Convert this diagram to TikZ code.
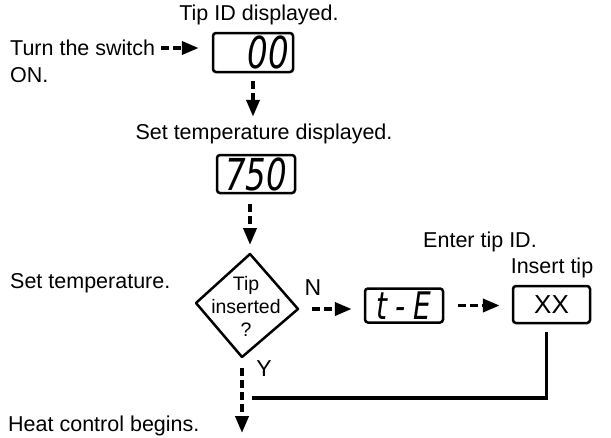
\documentclass[tikz,border=0pt]{standalone}
\usepackage{fontspec}
\setmainfont{Liberation Sans}
\newfontfamily\segfont{DejaVu Sans Condensed}
\usetikzlibrary{arrows.meta}
\newcommand{\segtxt}[1]{\scalebox{0.82}[1]{#1}}
\begin{document}
\begin{tikzpicture}[x=1pt,y=-1pt,
  lbl/.style={font=\fontsize{21.5}{24}\selectfont, inner sep=0pt},
  segbox/.style={draw, line width=2.5pt, rounded corners=3pt, inner sep=0pt,
    font=\fontsize{44}{46}\segfont\itshape},
  xxbox/.style={draw, line width=2.5pt, rounded corners=3pt, inner sep=0pt,
    font=\fontsize{26}{28}\selectfont},
  flow/.style={line width=3.8pt, dash pattern=on 8pt off 4pt,
    -{Triangle[length=17pt,width=13pt]}},
  solidline/.style={line width=3.8pt},
  diamondline/.style={line width=2.5pt, line join=round}]
\useasboundingbox (0,0) rectangle (611,437);

% texts
\node[lbl] (tipid) at (259,15) {Tip ID displayed.};
\node[lbl, anchor=west] (turn) at (10,48) {Turn the switch};
\node[lbl, anchor=west] (on) at (10,75) {ON.};
\node[lbl] (setdisp) at (264,134) {Set temperature displayed.};
\node[lbl] (enter) at (480,242) {Enter tip ID.};
\node[lbl] (insert) at (552,268) {Insert tip};
\node[lbl, anchor=west] (settemp) at (10,283) {Set temperature.};
\node[lbl, anchor=west] (heat) at (8,426) {Heat control begins.};
\node[font=\fontsize{23}{24}\selectfont, inner sep=0pt] (nlbl) at (313,288) {N};
\node[font=\fontsize{23}{24}\selectfont, inner sep=0pt] (ylbl) at (264,369) {Y};

% boxes
\node[segbox, minimum width=80pt, minimum height=39pt, text width=72pt, align=right] (b00) at (253,52.5) {\segtxt{00}};
\node[segbox, minimum width=78pt, minimum height=38pt] (b750) at (256,174) {\segtxt{750}};
\node[segbox, minimum width=78pt, minimum height=34pt, font=\fontsize{38}{40}\segfont\itshape] (bte) at (404,305.5) {\segtxt{t\hspace{10pt}-\hspace{10pt}E}};
\node[xxbox, minimum width=77pt, minimum height=37pt] (bxx) at (551.5,304.5) {XX};

% diamond
\coordinate (dT) at (250,254);
\coordinate (dR) at (298,309);
\coordinate (dB) at (242,357);
\coordinate (dL) at (196,303);
\draw[diamondline] (dT) -- (dR) -- (dB) -- (dL) -- cycle;
\node[font=\fontsize{19.5}{23}\selectfont, align=center, inner sep=0pt] (q) at (246,306) {Tip\\inserted\\?};

% connectors
\draw[flow, shorten <=6pt, shorten >=13pt] (turn.east) -- (b00.west |- turn.east);
\draw[flow, shorten <=8pt, shorten >=37pt] (b00.south) -- (b00.south |- b750.north);
\draw[flow, shorten <=10pt, shorten >=9pt] (b750.south -| dT) -- (dT);
\draw[flow, shorten <=14pt, shorten >=12pt] (dR) -- (dR -| bte.west);
\draw[flow, shorten <=14pt, shorten >=12pt] (bte.east) -- (bxx.west |- bte.east);
\coordinate (hc) at (242,433);
\draw[flow, shorten <=11pt] (dB) -- (hc);
\coordinate (j) at (252,398);
\draw[solidline, shorten <=8pt] ([xshift=-5pt]bxx.south) |- (j);
\end{tikzpicture}
\end{document}
